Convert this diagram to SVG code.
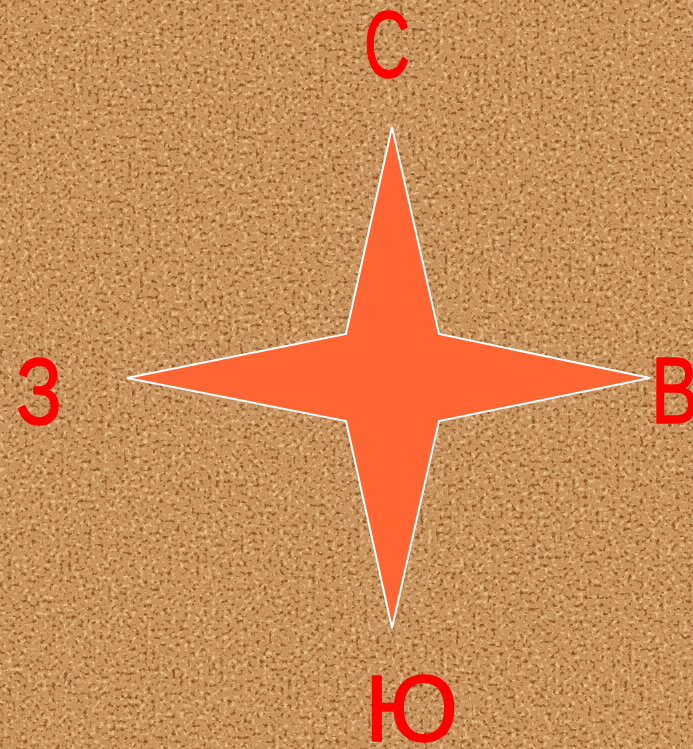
<svg xmlns="http://www.w3.org/2000/svg" width="693" height="749" viewBox="0 0 693 749">
<defs>
<filter id="cork" x="0" y="0" width="100%" height="100%" filterUnits="userSpaceOnUse" color-interpolation-filters="sRGB">
<feTurbulence type="fractalNoise" baseFrequency="0.25" numOctaves="3" seed="11" result="n"/>
<feColorMatrix in="n" type="matrix" values="0 0 0 0 0.55  0 0 0 0 0.33  0 0 0 0 0.14  4 0 0 0 -2.15" result="dark"/>
<feColorMatrix in="n" type="matrix" values="0 0 0 0 0.91  0 0 0 0 0.74  0 0 0 0 0.53  0 -4 0 0 1.95" result="light"/>
<feFlood flood-color="#C8935E" result="base"/>
<feMerge>
<feMergeNode in="base"/>
<feMergeNode in="light"/>
<feMergeNode in="dark"/>
</feMerge>
</filter>
<style>
.lbl{font-family:"Comic Sans MS","Liberation Sans",sans-serif;font-size:94px;fill:#FF0000;stroke:#FF0000;stroke-width:1.5;stroke-linejoin:round}
.star{fill:#FF6633;stroke:#FFFFFF;stroke-width:2;stroke-linejoin:miter}
</style>
</defs>
<rect id="background" x="0" y="0" width="693" height="749" filter="url(#cork)" fill="#C8935E"/>
<g id="star">
<polygon class="star" points="392,127 439,334 650,378 439,421 392,628 346,421 127,378 346,334"/>
</g>
<g id="label-north"><text class="lbl" x="364" y="77" textLength="46" lengthAdjust="spacingAndGlyphs">С</text></g>
<g id="label-west"><text class="lbl" x="16" y="424" textLength="46" lengthAdjust="spacingAndGlyphs">З</text></g>
<g id="label-east"><text class="lbl" x="651" y="423" textLength="48" lengthAdjust="spacingAndGlyphs">В</text></g>
<g id="label-south"><text class="lbl" x="365" y="741" textLength="93" lengthAdjust="spacingAndGlyphs">Ю</text></g>
</svg>
